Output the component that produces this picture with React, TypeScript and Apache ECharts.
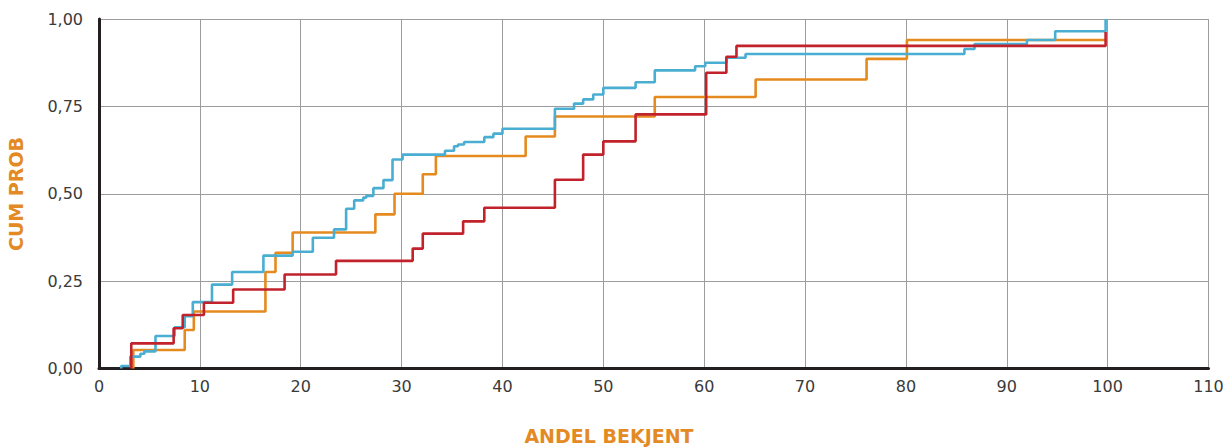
import { useEffect, useRef } from "react";
import * as echarts from "echarts";

// Cumulative probability step curves: each pair is [x where the step occurs, new cumulative value]
const orangeSteps: [number, number][] = [
  [3.4, 0], [3.4, 0.053], [8.5, 0.11], [9.4, 0.163], [16.5, 0.276], [17.5, 0.331],
  [19.2, 0.389], [27.4, 0.441], [29.3, 0.5], [32.1, 0.556], [33.4, 0.608],
  [42.3, 0.664], [45.2, 0.721], [55.1, 0.777], [65.1, 0.827], [76.1, 0.886],
  [80.1, 0.94], [99.8, 0.94],
];

const blueSteps: [number, number][] = [
  [2.2, 0], [2.2, 0.007], [3.1, 0.034], [4.1, 0.042], [4.5, 0.049], [5.6, 0.093],
  [7.5, 0.118], [8.5, 0.15], [9.3, 0.19], [11.2, 0.24], [13.2, 0.276],
  [16.3, 0.323], [19.2, 0.334], [21.2, 0.374], [23.3, 0.398], [24.5, 0.457],
  [25.3, 0.481], [26.2, 0.489], [26.5, 0.494], [27.2, 0.516], [28.2, 0.539],
  [29.1, 0.598], [30.1, 0.612], [34.3, 0.623], [35.2, 0.636], [35.6, 0.641],
  [36.2, 0.648], [38.2, 0.662], [39.1, 0.672], [40.0, 0.686], [45.2, 0.743],
  [47.1, 0.758], [48.0, 0.77], [49.0, 0.784], [50.0, 0.803], [53.2, 0.819],
  [55.1, 0.853], [59.1, 0.865], [60.1, 0.875], [62.2, 0.889], [64.1, 0.9],
  [85.8, 0.914], [86.8, 0.928], [92.0, 0.94], [94.8, 0.965], [99.8, 1.0],
];

const redSteps: [number, number][] = [
  [3.2, 0], [3.2, 0.072], [7.4, 0.115], [8.3, 0.153], [10.4, 0.188], [13.3, 0.226],
  [18.4, 0.269], [23.5, 0.308], [31.1, 0.343], [32.1, 0.386], [36.1, 0.421],
  [38.2, 0.46], [45.2, 0.54], [48.0, 0.612], [50.0, 0.65], [53.2, 0.727],
  [60.2, 0.846], [62.2, 0.892], [63.2, 0.923], [99.8, 0.963],
];

const seriesNames = ["Oransje", "Blå", "Rød"];
const seriesColors = ["#e58a1f", "#4aaed2", "#c1222b"];

const xMin = 0;
const xMax = 110;
const xStep = 10;
const yMin = 0;
const yMax = 1;
const yStep = 0.25;

const yTitle = "CUM PROB";
const xTitle = "ANDEL BEKJENT";

const titleColor = "#e38a24";
const labelColor = "#3a3a3a";
const gridColor = "#9c9c9c";
const axisColor = "#231f20";

export default function App() {
  const ref = useRef<HTMLDivElement>(null);

  useEffect(() => {
    if (!ref.current) return;
    const chart = echarts.init(ref.current, undefined, { renderer: "svg" });
    const stepSets = [orangeSteps, blueSteps, redSteps];

    chart.setOption({
      animation: false,
      backgroundColor: "#ffffff",
      grid: { left: 99, right: 23.5, top: 19, bottom: 78.5 },
      xAxis: {
        type: "value",
        min: xMin,
        max: xMax,
        interval: xStep,
        axisLine: { show: true, onZero: false, lineStyle: { color: axisColor, width: 3 } },
        axisTick: { show: false },
        axisLabel: {
          color: labelColor,
          fontFamily: "DejaVu Sans",
          fontSize: 16,
          margin: 10,
        },
        splitLine: { show: true, lineStyle: { color: gridColor, width: 1 } },
      },
      yAxis: {
        type: "value",
        min: yMin,
        max: yMax,
        interval: yStep,
        axisLine: { show: true, onZero: false, lineStyle: { color: axisColor, width: 3 } },
        axisTick: { show: false },
        axisLabel: {
          color: labelColor,
          fontFamily: "DejaVu Sans",
          fontSize: 16,
          margin: 16,
          formatter: (v: number) => v.toFixed(2).replace(".", ","),
        },
        splitLine: { show: true, lineStyle: { color: gridColor, width: 1 } },
      },
      graphic: [
        {
          type: "text",
          x: 16,
          y: 194,
          rotation: Math.PI / 2,
          style: {
            text: yTitle,
            fill: titleColor,
            font: "bold 19px 'DejaVu Sans'",
            align: "center",
            verticalAlign: "middle",
          },
        },
        {
          type: "text",
          x: 609,
          y: 436,
          style: {
            text: xTitle,
            fill: titleColor,
            font: "bold 19px 'DejaVu Sans'",
            align: "center",
            verticalAlign: "middle",
          },
        },
      ],
      series: stepSets.map((data, i) => ({
        name: seriesNames[i],
        type: "line",
        step: "end",
        data,
        symbol: "none",
        clip: false,
        lineStyle: { color: seriesColors[i], width: 2.6 },
        itemStyle: { color: seriesColors[i] },
        z: 3 + i,
      })),
    });

    return () => chart.dispose();
  }, []);

  return (
    <div
      ref={ref}
      style={{ position: "absolute", left: 0, top: 0, width: 1232, height: 447, background: "#fff" }}
    />
  );
}
